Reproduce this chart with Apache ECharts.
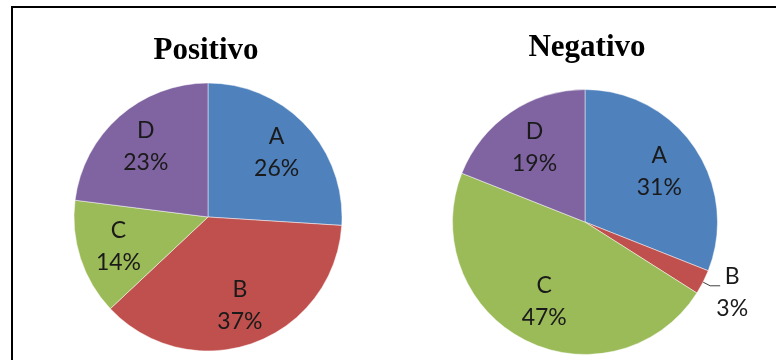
<!DOCTYPE html>
<html>
<head>
<meta charset="utf-8">
<script src="https://cdn.jsdelivr.net/npm/echarts@6/dist/echarts.min.js"></script>
<style>
  html, body { margin: 0; padding: 0; background: #fff; }
  #chart { width: 776px; height: 360px; }
</style>
</head>
<body>
<div id="chart"></div>
<script>
// Category names and shares (%) for the two pies
const categories = ['A', 'B', 'C', 'D'];
const positivoValues = [26, 37, 14, 23];
const negativoValues = [31, 3, 47, 19];
// Slices whose label sits outside with a leader line
const positivoOutside = [];
const negativoOutside = ['B'];

const sliceColors = ['#4F81BD', '#C0504D', '#9BBB59', '#8064A2'];
const labelFont = { fontFamily: 'Lato', fontSize: 23, color: '#1a1a1a', lineHeight: 32 };
const titleFont = { fontFamily: 'Liberation Serif, Times New Roman, serif', fontSize: 31, fontWeight: 'bold', color: '#000' };

// One visible pie plus a transparent ring on top that carries the inside labels
// further out from the centre than the default half-radius.
function pieSeries(values, outside, center, radius, innerFrac) {
  const items = categories.map((name, i) => ({ name: name, value: values[i] }));
  const main = {
    type: 'pie',
    center: center,
    radius: radius,
    startAngle: 90,
    clockwise: true,
    avoidLabelOverlap: false,
    emphasis: { disabled: true },
    itemStyle: { borderColor: 'rgba(255,255,255,0.6)', borderWidth: 0.8 },
    label: { show: false },
    labelLine: { show: false },
    data: items.map(d => outside.includes(d.name) ? Object.assign({}, d, {
      label: {
        show: true,
        position: 'outside',
        formatter: '{t|{b}}\n{t|{d}%}',
        distanceToLabelLine: -5,
        padding: [14, 0, 0, 0],
        rich: { t: Object.assign({}, labelFont, { width: 34, align: 'center' }) }
      },
      labelLine: { show: true, length: 8, length2: 10, lineStyle: { color: '#404040', width: 1 } }
    }) : d)
  };
  const labels = {
    type: 'pie',
    center: center,
    radius: [radius * innerFrac, radius],
    startAngle: 90,
    clockwise: true,
    silent: true,
    avoidLabelOverlap: false,
    itemStyle: { color: 'transparent', borderWidth: 0 },
    label: Object.assign({ show: true, position: 'inside', formatter: '{b}\n{d}%' }, labelFont),
    labelLine: { show: false },
    data: items.map(d => outside.includes(d.name) ? Object.assign({}, d, { label: { show: false } }) : d)
  };
  return [main, labels];
}

const chart = echarts.init(document.getElementById('chart'), null, { renderer: 'canvas' });
chart.setOption({
  animation: false,
  backgroundColor: '#fff',
  color: sliceColors,
  title: [
    { text: 'Positivo', left: 206, top: 35, padding: 0, textAlign: 'center', textStyle: titleFont },
    { text: 'Negativo', left: 587, top: 32, padding: 0, textAlign: 'center', textStyle: titleFont }
  ],
  graphic: [{
    type: 'rect',
    shape: { x: 12, y: 7, width: 900, height: 500 },
    style: { fill: 'none', stroke: '#000', lineWidth: 2 },
    silent: true
  }],
  series: [].concat(
    pieSeries(positivoValues, positivoOutside, [208, 217], 134, 0.36),
    pieSeries(negativoValues, negativoOutside, [585, 222], 132.5, 0.31)
  )
});
</script>
</body>
</html>
